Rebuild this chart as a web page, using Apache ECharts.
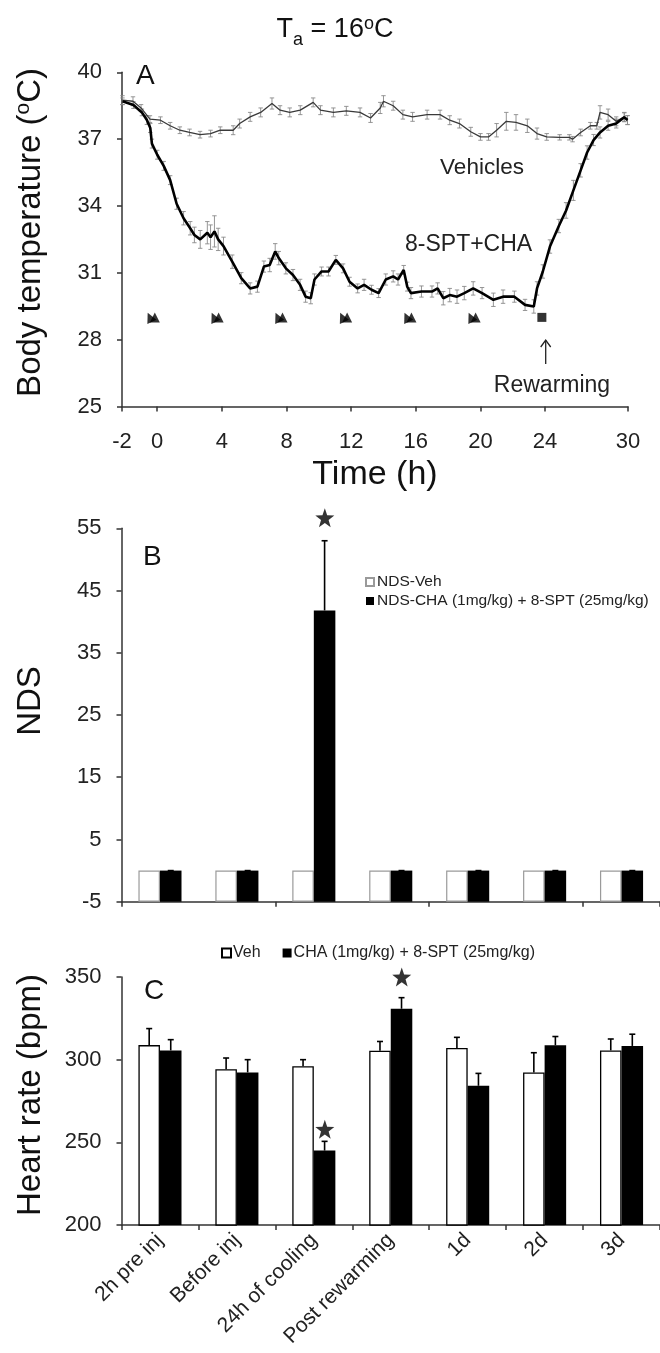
<!DOCTYPE html>
<html><head><meta charset="utf-8">
<script src="https://cdn.jsdelivr.net/npm/echarts@6/dist/echarts.min.js"></script>
<style>html,body{margin:0;padding:0;background:#fff}#c{width:660px;height:1353px}</style>
</head><body><div id="c"></div>
<script>
// ---------- Panel A : body temperature (Ta = 16 C) ----------
const vehTime = [-2.15,-1.5,-1.0,-0.45,0.2,0.8,1.4,2.0,2.65,3.3,3.9,4.7,5.1,5.75,6.4,7.1,7.6,8.2,8.85,9.65,10.1,10.9,11.7,12.55,13.2,13.8,14.0,14.6,15.2,15.8,16.7,17.5,18.1,18.7,19.4,20.0,20.5,21.0,21.6,22.2,22.9,23.5,24.1,24.9,25.5,25.7,26.2,26.8,27.2,27.4,27.9,28.4,28.9,29.1];
const vehTemp = [38.75,38.7,38.4,37.9,37.85,37.6,37.4,37.3,37.2,37.25,37.4,37.4,37.7,38.0,38.2,38.6,38.3,38.2,38.3,38.65,38.3,38.2,38.27,38.2,37.95,38.4,38.7,38.5,38.1,38.0,38.1,38.1,37.85,37.7,37.33,37.1,37.1,37.4,37.8,37.75,37.6,37.25,37.1,37.08,37.08,37.0,37.3,37.6,37.6,38.2,38.1,37.8,38.0,37.85];
const vehErr = [0.2,0.2,0.15,0.15,0.15,0.15,0.15,0.15,0.15,0.15,0.15,0.2,0.2,0.2,0.2,0.25,0.2,0.2,0.2,0.2,0.2,0.2,0.2,0.2,0.2,0.25,0.25,0.2,0.2,0.2,0.2,0.2,0.2,0.2,0.2,0.15,0.15,0.3,0.4,0.35,0.3,0.25,0.15,0.12,0.12,0.12,0.15,0.15,0.15,0.3,0.25,0.2,0.2,0.2];
const chaTime = [-2.15,-1.47,-0.95,-0.64,-0.43,-0.33,0.0,0.4,0.8,1.2,1.63,2.04,2.3,2.66,3.1,3.3,3.54,3.77,4.1,4.64,5.2,5.75,6.2,6.6,6.96,7.3,7.52,7.96,8.4,8.84,9.18,9.5,9.73,10.17,10.6,11.05,11.5,11.9,12.4,12.8,13.26,13.7,14.14,14.6,14.9,15.25,15.47,15.7,16.35,17.0,17.35,17.7,18.1,18.55,19.0,19.55,20.1,20.8,21.4,22.1,22.76,23.3,23.5,23.86,24.3,24.85,25.3,25.75,26.2,26.6,27.0,27.4,27.9,28.4,28.9,29.1];
const chaTemp = [38.7,38.53,38.2,37.86,37.5,36.8,36.3,35.8,35.16,34.1,33.45,33.0,32.7,32.5,32.8,32.6,32.86,32.5,32.2,31.5,30.76,30.3,30.38,31.28,31.35,31.96,31.66,31.2,30.9,30.46,29.93,29.86,30.7,31.06,31.06,31.58,31.2,30.6,30.3,30.46,30.24,30.09,30.7,30.84,30.7,31.13,30.38,30.09,30.16,30.16,30.3,29.86,30.0,29.93,30.09,30.3,30.09,29.79,29.93,29.93,29.56,29.49,30.3,31.06,32.18,33.1,33.8,34.7,35.6,36.4,36.96,37.3,37.6,37.7,37.98,37.86];
const chaErr = [0.15,0.15,0.15,0.2,0.2,0.2,0.2,0.2,0.2,0.25,0.3,0.3,0.35,0.4,0.5,0.55,0.7,0.5,0.4,0.3,0.25,0.25,0.25,0.25,0.3,0.35,0.3,0.25,0.25,0.25,0.25,0.25,0.25,0.2,0.2,0.2,0.2,0.2,0.2,0.25,0.2,0.2,0.25,0.25,0.25,0.2,0.2,0.25,0.25,0.25,0.25,0.3,0.3,0.3,0.3,0.3,0.25,0.3,0.3,0.25,0.25,0.3,0.3,0.3,0.3,0.3,0.35,0.45,0.3,0.3,0.25,0.25,0.2,0.2,0.2,0.2];
const injTimesA = [-0.46,3.5,7.45,11.45,15.43,19.4];   // first triangle of each injection pair
const injTimesB = [-0.15,3.8,7.75,11.75,15.73,19.7];   // second triangle
const rewarmTimes = [23.8];
const markerTemp = 29;
const xTickValuesA = [-2.18,0,4,8,12,16,20,24,29.13];
const xTickLabelsA = ['-2','0','4','8','12','16','20','24','30'];
const yTicksA = [25,28,31,34,37,40];

// ---------- Panel B : NDS ----------
const groups = ['2h pre inj','Before inj','24h of cooling','Post rewarming','1d','2d','3d'];
const ndsVeh = [0,0,0,0,0,0,0];
const ndsCha = [0,0,41.8,0,0,0,0];
const ndsChaErr = [0,0,11.2,0,0,0,0];
const ndsStars = [[2,56.7]];
const yTicksB = [-5,5,15,25,35,45,55];

// ---------- Panel C : heart rate ----------
const hrVeh = [308.8,294.2,296.0,305.4,307.1,292.3,305.6];
const hrVehErr = [10.0,6.8,4.0,5.6,6.4,11.9,6.9];
const hrCha = [305.6,292.3,245.0,330.8,284.2,308.7,308.3];
const hrChaErr = [6.5,7.7,5.6,6.7,7.5,5.3,7.1];
const hrStars = [[2,257.9],[3,350]];

const FONT = 'Liberation Sans, Arial, sans-serif';
const AX = '#333';

function zip3(a,b,c){return a.map((v,i)=>[v,b[i],c[i]]);}
function zip2(a,b){return a.map((v,i)=>[v,b[i]]);}

function errA(color){
  return function(params, api){
    const t=api.value(0), m=api.value(1), e=api.value(2);
    const lo=api.coord([t,m-e]), hi=api.coord([t,m+e]);
    const w=2.2;
    const st={stroke:color,lineWidth:0.9};
    return {type:'group',children:[
      {type:'line',shape:{x1:lo[0],y1:lo[1],x2:hi[0],y2:hi[1]},style:st},
      {type:'line',shape:{x1:hi[0]-w,y1:hi[1],x2:hi[0]+w,y2:hi[1]},style:st},
      {type:'line',shape:{x1:lo[0]-w,y1:lo[1],x2:lo[0]+w,y2:lo[1]},style:st}
    ]};
  };
}
function errBar(offsetFrac,color){
  return function(params, api){
    const c=api.value(0), v=api.value(1), e=api.value(2);
    const base=api.coord([c,v]), top=api.coord([c,v+e]);
    const band=api.size([1,0])[0];
    const x=base[0]+band*offsetFrac;
    const w=3;
    const st={stroke:color,lineWidth:1.6};
    return {type:'group',children:[
      {type:'line',shape:{x1:x,y1:base[1],x2:x,y2:top[1]},style:st},
      {type:'line',shape:{x1:x-w,y1:top[1],x2:x+w,y2:top[1]},style:st}
    ]};
  };
}
const STAR='path://M0,-10L2.35,-3.24L9.51,-3.09L3.8,1.24L5.88,8.09L0,4L-5.88,8.09L-3.8,1.24L-9.51,-3.09L-2.35,-3.24Z';

const axisCommon = {
  axisLine:{show:true,onZero:false,lineStyle:{color:AX,width:1.5}},
  axisTick:{show:true,inside:false,length:5,lineStyle:{color:AX,width:1.5}},
  splitLine:{show:false},
  axisLabel:{color:'#222',fontSize:22,fontFamily:FONT}
};

const chart = echarts.init(document.getElementById('c'), null, {renderer:'canvas'});
chart.setOption({
  backgroundColor:'#fff',
  animation:false,
  textStyle:{fontFamily:FONT},
  grid:[
    {left:122,top:72.3,width:506,height:334.2},
    {left:121.5,top:528.3,width:542,height:373.4},
    {left:121.5,top:977,width:542,height:248}
  ],
  xAxis:[
    Object.assign({}, axisCommon, {gridIndex:0,type:'value',min:-2.18,max:29.13,
      axisTick:{show:true,length:5,customValues:xTickValuesA,lineStyle:{color:AX,width:1.5}},
      axisLabel:{color:'#222',fontSize:22,fontFamily:FONT,margin:24,customValues:xTickValuesA,
        formatter:function(v){const i=xTickValuesA.findIndex(t=>Math.abs(t-v)<1e-6);return i>=0?xTickLabelsA[i]:'';}},
      name:'Time (h)',nameLocation:'middle',nameGap:51,
      nameTextStyle:{fontSize:34,color:'#111',fontFamily:FONT,verticalAlign:'top'}}),
    Object.assign({}, axisCommon, {gridIndex:1,type:'category',data:groups,boundaryGap:true,
      axisLabel:{show:false}}),
    Object.assign({}, axisCommon, {gridIndex:2,type:'category',data:groups,boundaryGap:true,
      axisLabel:{color:'#222',fontSize:21,fontFamily:FONT,rotate:45,interval:0,margin:12}})
  ],
  yAxis:[
    Object.assign({}, axisCommon, {gridIndex:0,type:'value',min:25,max:40,
      axisTick:{show:true,length:5,customValues:yTicksA,lineStyle:{color:AX,width:1.5}},
      axisLabel:{color:'#222',fontSize:22,fontFamily:FONT,margin:20,customValues:yTicksA},
      name:'Body temperature ({sup|o}C)',nameLocation:'middle',nameGap:74,
      nameTextStyle:{fontSize:33,color:'#111',fontFamily:FONT,padding:[0,0,0,14],
        rich:{sup:{fontSize:21,fontFamily:FONT,color:'#111',verticalAlign:'middle',padding:[0,0,14,0]}}}}),
    Object.assign({}, axisCommon, {gridIndex:1,type:'value',min:-5,max:55,startValue:-5,
      axisTick:{show:true,length:5,customValues:yTicksB,lineStyle:{color:AX,width:1.5}},
      axisLabel:{color:'#222',fontSize:22,fontFamily:FONT,margin:20,customValues:yTicksB},
      name:'NDS',nameLocation:'middle',nameGap:74,
      nameTextStyle:{fontSize:33,color:'#111',fontFamily:FONT,padding:[0,0,0,28]}}),
    Object.assign({}, axisCommon, {gridIndex:2,type:'value',min:200,max:350,interval:50,
      axisTick:{show:true,length:5,lineStyle:{color:AX,width:1.5}},
      axisLabel:{color:'#222',fontSize:22,fontFamily:FONT,margin:20},
      name:'Heart rate (bpm)',nameLocation:'middle',nameGap:74,
      nameTextStyle:{fontSize:33,color:'#111',fontFamily:FONT,padding:[0,0,0,12]}})
  ],
  legend:[
    {data:['NDS-Veh','NDS-CHA (1mg/kg) + 8-SPT (25mg/kg)'],orient:'vertical',left:360,top:569,
      itemWidth:8,itemHeight:8,itemGap:3,icon:'rect',selectedMode:false,
      textStyle:{fontSize:15.5,color:'#222',fontFamily:FONT,padding:[0,0,0,-2]}},
    {data:['Veh','CHA (1mg/kg) + 8-SPT (25mg/kg)'],orient:'horizontal',left:216,top:940,
      itemWidth:9,itemHeight:9,itemGap:22,icon:'rect',selectedMode:false,
      textStyle:{fontSize:16,color:'#222',fontFamily:FONT,padding:[0,0,0,-3]}}
  ],
  series:[
    // Panel A
    {type:'custom',name:'vehErr',xAxisIndex:0,yAxisIndex:0,renderItem:errA('#8a8a8a'),data:zip3(vehTime,vehTemp,vehErr),z:2,silent:true},
    {type:'line',name:'Vehicles',xAxisIndex:0,yAxisIndex:0,data:zip2(vehTime,vehTemp),showSymbol:false,symbol:'none',
      lineStyle:{color:'#3a3a3a',width:1.3},z:3},
    {type:'custom',name:'chaErr',xAxisIndex:0,yAxisIndex:0,renderItem:errA('#8a8a8a'),data:zip3(chaTime,chaTemp,chaErr),z:2,silent:true},
    {type:'line',name:'8-SPT+CHA',xAxisIndex:0,yAxisIndex:0,data:zip2(chaTime,chaTemp),showSymbol:false,symbol:'none',
      lineStyle:{color:'#000',width:2.6},z:4},
    {type:'scatter',name:'injA',xAxisIndex:0,yAxisIndex:0,data:injTimesA.map(t=>[t,markerTemp]),symbol:'triangle',symbolSize:10,symbolRotate:25,
      itemStyle:{color:'#000'},z:5},
    {type:'scatter',name:'injB',xAxisIndex:0,yAxisIndex:0,data:injTimesB.map(t=>[t,markerTemp]),symbol:'triangle',symbolSize:10,
      itemStyle:{color:'#000'},z:5},
    {type:'scatter',name:'rewarm',xAxisIndex:0,yAxisIndex:0,data:rewarmTimes.map(t=>[t,markerTemp]),symbol:'rect',symbolSize:9,
      itemStyle:{color:'#000'},z:5},
    // Panel B
    {type:'bar',name:'NDS-Veh',xAxisIndex:1,yAxisIndex:1,data:ndsVeh,barGap:'0%',barCategoryGap:'44%',
      itemStyle:{color:'#fff',borderColor:'#9a9a9a',borderWidth:1.2}},
    {type:'bar',name:'NDS-CHA (1mg/kg) + 8-SPT (25mg/kg)',xAxisIndex:1,yAxisIndex:1,data:ndsCha,barGap:'0%',barCategoryGap:'44%',
      itemStyle:{color:'#000',borderColor:'#000',borderWidth:0}},
    {type:'custom',name:'ndsErr',xAxisIndex:1,yAxisIndex:1,renderItem:errBar(0.14,'#000'),
      data:ndsCha.map((v,i)=>[i,v,ndsChaErr[i]]),z:5,silent:true},
    {type:'scatter',name:'ndsStar',xAxisIndex:1,yAxisIndex:1,data:ndsStars,symbol:STAR,symbolSize:19,
      symbolOffset:[11,0],itemStyle:{color:'#000'},clip:false,z:6},
    // Panel C
    {type:'bar',name:'Veh',xAxisIndex:2,yAxisIndex:2,data:hrVeh,barGap:'0%',barCategoryGap:'44%',
      itemStyle:{color:'#fff',borderColor:'#000',borderWidth:1.3}},
    {type:'bar',name:'CHA (1mg/kg) + 8-SPT (25mg/kg)',xAxisIndex:2,yAxisIndex:2,data:hrCha,barGap:'0%',barCategoryGap:'44%',
      itemStyle:{color:'#000',borderColor:'#000',borderWidth:0}},
    {type:'custom',name:'hrVehErr',xAxisIndex:2,yAxisIndex:2,renderItem:errBar(-0.14,'#000'),
      data:hrVeh.map((v,i)=>[i,v,hrVehErr[i]]),z:5,silent:true},
    {type:'custom',name:'hrChaErr',xAxisIndex:2,yAxisIndex:2,renderItem:errBar(0.14,'#000'),
      data:hrCha.map((v,i)=>[i,v,hrChaErr[i]]),z:5,silent:true},
    {type:'scatter',name:'hrStar',xAxisIndex:2,yAxisIndex:2,data:hrStars,symbol:STAR,symbolSize:19,
      symbolOffset:[11,0],itemStyle:{color:'#000'},clip:false,z:6}
  ],
  graphic:[
    {type:'text',x:335,y:30,style:{text:'T{sub|a} = 16{sup|o}C',font:'27px '+FONT,fill:'#111',align:'center',verticalAlign:'middle',
      rich:{sub:{fontSize:18,fontFamily:FONT,fill:'#111',verticalAlign:'middle',padding:[21,0,0,0]},
            sup:{fontSize:18,fontFamily:FONT,fill:'#111',verticalAlign:'middle',padding:[0,0,12,0]}}}},
    {type:'text',x:136,y:62,style:{text:'A',font:'28px '+FONT,fill:'#111'}},
    {type:'text',x:143,y:543,style:{text:'B',font:'28px '+FONT,fill:'#111'}},
    {type:'text',x:144,y:977,style:{text:'C',font:'28px '+FONT,fill:'#111'}},
    {type:'text',x:482,y:168,style:{text:'Vehicles',font:'22.5px '+FONT,fill:'#222',align:'center',verticalAlign:'middle'}},
    {type:'text',x:405,y:245,style:{text:'8-SPT+CHA',font:'23px '+FONT,fill:'#222',align:'left',verticalAlign:'middle'}},
    {type:'text',x:552,y:386,style:{text:'Rewarming',font:'23px '+FONT,fill:'#222',align:'center',verticalAlign:'middle'}},
    {type:'polyline',shape:{points:[[545.7,364],[545.7,340]]},style:{stroke:'#222',lineWidth:1.3,fill:null}},
    {type:'polyline',shape:{points:[[540.7,347],[545.7,340],[550.7,347]]},style:{stroke:'#222',lineWidth:1.3,fill:null}}
  ]
});
</script></body></html>
